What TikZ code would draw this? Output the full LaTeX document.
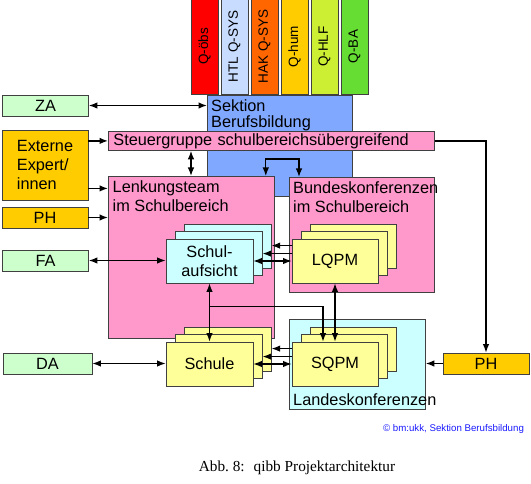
\documentclass[tikz,border=0pt]{standalone}
\usepackage{fontspec}
\setmainfont{Liberation Sans}
\newfontfamily\capfont{Liberation Serif}
\usetikzlibrary{arrows.meta,shadows}
\definecolor{boxline}{HTML}{404040}
\definecolor{qred}{HTML}{FF0000}
\definecolor{qhtl}{HTML}{C8DCFF}
\definecolor{qhak}{HTML}{FF6600}
\definecolor{qhum}{HTML}{FFCC00}
\definecolor{qhlf}{HTML}{CCEE33}
\definecolor{qba}{HTML}{66DD33}
\definecolor{secblue}{HTML}{80A8FF}
\definecolor{pinkc}{HTML}{FF99CC}
\definecolor{greenc}{HTML}{CCFFCC}
\definecolor{goldc}{HTML}{FFCC00}
\definecolor{cyanc}{HTML}{CCFFFF}
\definecolor{yellowc}{HTML}{FFFF99}
\definecolor{copyblue}{HTML}{1A1AFF}

\begin{document}
\begin{tikzpicture}[x=1pt, y=-1pt,
  txt/.style={font=\fontsize{16.3}{19}\selectfont},
  box/.style={draw=boxline, line width=0.8pt, inner sep=0pt, txt},
  qbox/.style={box, rotate=90, minimum width=95pt, minimum height=27pt, font=\fontsize{13.5}{16}\selectfont},
  sidebox/.style={box, minimum width=86pt, minimum height=21pt},
  frame/.style={draw=boxline, line width=0.8pt, inner sep=0pt, anchor=north west},
  lbl/.style={txt, align=left, inner sep=4.5pt},
  stack/.style={box, fill=#1, minimum width=87pt, minimum height=44pt, align=center,
    double copy shadow={shadow xshift=9pt, shadow yshift=7.5pt}},
  arr/.style={line width=1.3pt, -{Latex[length=8.5pt,width=6.5pt]}},
  dbl/.style={line width=1.3pt, {Latex[length=8.5pt,width=6.5pt]}-{Latex[length=8.5pt,width=6.5pt]}}]
	\useasboundingbox (0,0) rectangle (531,484);
	% quality networks on top
	\foreach \x/\c/\t [count=\i] in {204.5/qred/Q-öbs, 234.5/qhtl/HTL Q-SYS, 264.5/qhak/HAK Q-SYS,
	    294.5/qhum/Q-hum, 324.5/qhlf/Q-HLF, 354.5/qba/Q-BA}
	  \node[qbox, fill=\c] (q\i) at (\x,46.5) {\t};
	% big frames
	\node[frame, fill=secblue, minimum width=145pt, minimum height=101pt,
	  label={[lbl, inner sep=4pt, font=\fontsize{16.3}{16.5}\selectfont, anchor=north west]north west:Sektion\\Berufsbildung}] (sektion) at (207,95) {};
	\node[box, fill=pinkc, anchor=north west, text width=316pt, inner xsep=5pt, minimum height=19pt, align=left] (steuer) at (108,131) {Steuergruppe schulbereichsübergreifend};
	\node[frame, fill=pinkc, minimum width=166pt, minimum height=162pt,
	  label={[lbl, anchor=north west]north west:Lenkungsteam\\im Schulbereich}] (lenkung) at (108,176) {};
	\node[frame, fill=pinkc, minimum width=145pt, minimum height=115pt,
	  label={[lbl, inner xsep=4pt, anchor=north west]north west:Bundeskonferenzen\\im Schulbereich}] (bundes) at (289,177) {};
	\node[frame, fill=cyanc, minimum width=136pt, minimum height=90pt,
	  label={[lbl, inner sep=4pt, anchor=south west]south west:Landeskonferenzen}] (landes) at (289,319) {};
	% outside partners
	\node[sidebox, fill=greenc] (za) at (45.5,105.5) {ZA};
	\node[box, fill=goldc, minimum width=86pt, minimum height=70pt, align=left] (extern) at (45,165) {Externe\\Expert/\\innen};
	\node[sidebox, fill=goldc] (phleft) at (45,217.5) {PH};
	\node[sidebox, fill=greenc] (fa) at (45.5,260.5) {FA};
	\node[sidebox, fill=greenc, minimum width=89pt] (da) at (47.5,363.5) {DA};
	\node[sidebox, fill=goldc] (phright) at (486,363.5) {PH};
	% stacked boxes
	\node[stack=cyanc] (aufsicht) at (209.5,261) {Schul-\\aufsicht};
	\node[stack=yellowc, minimum width=86pt] (lqpm) at (335,261) {LQPM};
	\node[stack=yellowc] (schule) at (209.5,364) {Schule};
	\node[stack=yellowc, minimum width=86pt] (sqpm) at (335,364) {SQPM};
	% connectors
	\draw[dbl] (za) -- (za -| sektion.west);
	\draw[arr] (extern.east |- steuer.west) -- (steuer.west);
	\draw[arr] ([yshift=12pt]extern.south east) -- ([yshift=12pt]extern.south east -| lenkung.west);
	\draw[arr] (phleft) -- (phleft -| lenkung.west);
	\draw[dbl] (fa) -- (fa -| aufsicht.west);
	\draw[dbl] (da) -- (da -| schule.west);
	\draw[dbl] ([xshift=83pt]steuer.south west) -- ([xshift=83pt]lenkung.north west);
	\draw[dbl] ([xshift=-9pt]lenkung.north east) -- ++(0,-17) -| ([xshift=10pt]bundes.north west);
	\draw[arr] (steuer.east) -| (phright.north);
	\draw[arr] (phright.west) -- (phright.west -| landes.east);
	\draw[arr] ([yshift=-7pt]lqpm.north west) -- ++(-20,0);
	\draw[arr] ([yshift=-15pt]lqpm.north west) -- ++(-29,0);
	\draw[dbl] (aufsicht.east) -- (lqpm.west);
	\draw[arr] ([yshift=-7pt]sqpm.north west) -- ++(-20,0);
	\draw[arr] ([yshift=-15pt]sqpm.north west) -- ++(-29,0);
	\draw[dbl] (schule.east) -- (sqpm.west);
	\draw[dbl] (aufsicht.south) -- (schule.north);
	\draw[arr] ([yshift=-23pt]aufsicht.south) -| ([xshift=-12pt]sqpm.north);
	\draw[dbl] (lqpm.south) -- (sqpm.north);
	% source and caption
	\node[text=copyblue, font=\fontsize{9.7}{11}\selectfont] (quelle) at (453.5,429) {© bm:ukk, Sektion Berufsbildung};
	\node[font=\capfont\fontsize{15.3}{17}\selectfont] (caption) at (297,468) {Abb.~8:~ qibb Projektarchitektur};
\end{tikzpicture}
\end{document}
